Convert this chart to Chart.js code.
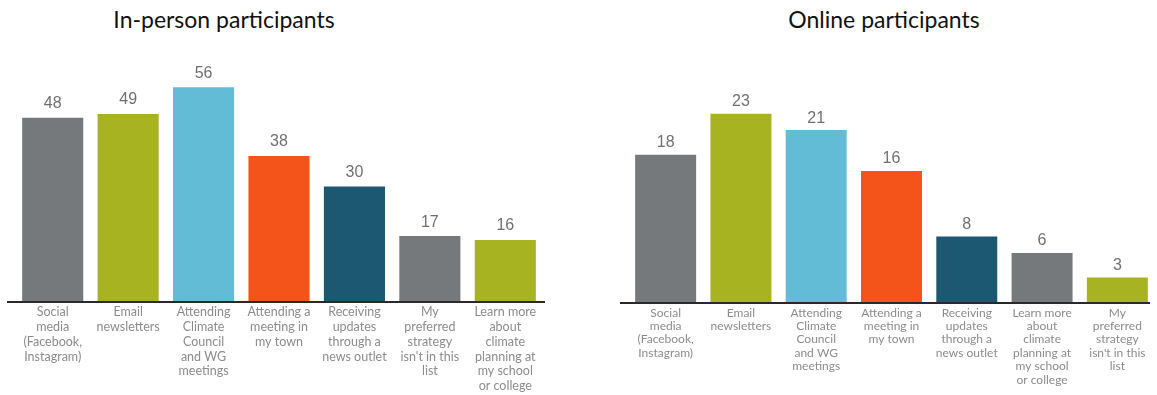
<!DOCTYPE html>
<html>
<head>
<meta charset="utf-8">
<script src="https://cdn.jsdelivr.net/npm/chart.js@4.4.1/dist/chart.umd.min.js"></script>
<style>
  html, body { margin: 0; padding: 0; background: #fff; overflow: hidden; }
  .box { position: absolute; top: 0; height: 395px; }
  .title { position: absolute; top: 5px; font-family: Lato, sans-serif; font-size: 23px; color: #111; white-space: nowrap; transform: translateX(-50%); }
</style>
</head>
<body>
<div class="title" style="left:224px">In-person participants</div>
<div class="title" style="left:884px">Online participants</div>
<div class="box" style="left:0; width:560px"><canvas id="chartLeft"></canvas></div>
<div class="box" style="left:600px; width:557px"><canvas id="chartRight"></canvas></div>
<script>
const inPersonLabels = [
  ['Social', 'media', '(Facebook,', 'Instagram)'],
  ['Email', 'newsletters'],
  ['Attending', 'Climate', 'Council', 'and WG', 'meetings'],
  ['Attending a', 'meeting in', 'my town'],
  ['Receiving', 'updates', 'through a', 'news outlet'],
  ['My', 'preferred', 'strategy', "isn't in this", 'list'],
  ['Learn more', 'about', 'climate', 'planning at', 'my school', 'or college']
];
const inPersonValues = [48, 49, 56, 38, 30, 17, 16];

const onlineLabels = [
  ['Social', 'media', '(Facebook,', 'Instagram)'],
  ['Email', 'newsletters'],
  ['Attending', 'Climate', 'Council', 'and WG', 'meetings'],
  ['Attending a', 'meeting in', 'my town'],
  ['Receiving', 'updates', 'through a', 'news outlet'],
  ['Learn more', 'about', 'climate', 'planning at', 'my school', 'or college'],
  ['My', 'preferred', 'strategy', "isn't in this", 'list']
];
const onlineValues = [18, 23, 21, 16, 8, 6, 3];

const barColors = ['#75797c', '#a8b321', '#63bcd6', '#f4541a', '#1c5872', '#75797c', '#a8b321'];

// draws the value over each bar and the dark baseline
const barExtras = {
  id: 'barExtras',
  afterDatasetsDraw(chart, args, opts) {
    const ctx = chart.ctx;
    const area = chart.chartArea;
    const y0 = chart.scales.y.getPixelForValue(0);
    ctx.save();
    ctx.strokeStyle = '#2a2a2a';
    ctx.lineWidth = 2;
    ctx.beginPath();
    ctx.moveTo(area.left - opts.extendLeft, y0 + 1);
    ctx.lineTo(area.right + opts.extendRight, y0 + 1);
    ctx.stroke();
    ctx.fillStyle = '#707070';
    ctx.font = '16px "Liberation Sans", Arial, sans-serif';
    ctx.textAlign = 'center';
    ctx.textBaseline = 'bottom';
    chart.getDatasetMeta(0).data.forEach((bar, i) => {
      ctx.fillText(chart.data.datasets[0].data[i], bar.x, bar.y - opts.gap);
    });
    ctx.restore();
  }
};

function makeChart(id, labels, values, yMax, top, axisHeight, fontSize, lineH, padL, padR, ext) {
  return new Chart(document.getElementById(id), {
    type: 'bar',
    data: {
      labels: labels,
      datasets: [{
        data: values,
        backgroundColor: barColors,
        borderWidth: 0,
        categoryPercentage: 1,
        barPercentage: 0.81
      }]
    },
    options: {
      responsive: true,
      maintainAspectRatio: false,
      animation: false,
      layout: { padding: { top: top, left: padL, right: padR, bottom: 0 } },
      plugins: {
        legend: { display: false },
        tooltip: { enabled: false },
        barExtras: ext
      },
      scales: {
        y: { display: false, min: 0, max: yMax },
        x: {
          border: { display: false },
          grid: { display: false, drawTicks: false },
          ticks: {
            color: '#8c8c8c',
            padding: 4,
            maxRotation: 0,
            autoSkip: false,
            font: { family: 'Lato, sans-serif', size: fontSize, lineHeight: lineH }
          },
          afterFit: s => { s.height = axisHeight; }
        }
      }
    },
    plugins: [barExtras]
  });
}

makeChart('chartLeft', inPersonLabels, inPersonValues, 60, 72, 94, 12.5, 1.18, 15, 17,
  { extendLeft: 8, extendRight: 2, gap: 6 });
makeChart('chartRight', onlineLabels, onlineValues, 27, 81, 93, 12, 1.12, 28, 2,
  { extendLeft: 8, extendRight: -5, gap: 4 });
</script>
</body>
</html>
